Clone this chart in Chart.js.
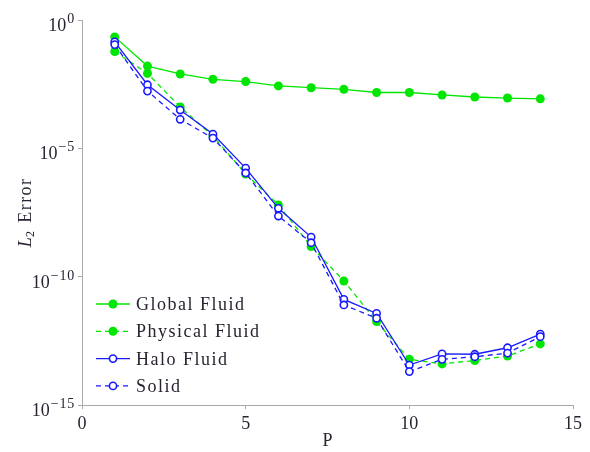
<!DOCTYPE html>
<html lang="en">
<head>
<meta charset="UTF-8">
<title>L2 Error vs P</title>
<script src="https://cdn.jsdelivr.net/npm/chart.js"></script>
<style>
  html, body { margin: 0; padding: 0; background: #fff; }
  .wrap { position: relative; width: 590px; height: 452px; }
</style>
</head>
<body>
<div class="wrap">
  <canvas id="myChart" width="590" height="452"></canvas>
</div>
<script>
// values
const P = [1, 2, 3, 4, 5, 6, 7, 8, 9, 10, 11, 12, 13, 14]
const globalFluid   = [2.2e-1, 1.6e-2, 7.9e-3, 4.9e-3, 4.0e-3, 2.7e-3, 2.3e-3, 2.0e-3, 1.5e-3, 1.5e-3, 1.2e-3, 1.0e-3, 9.1e-4, 8.5e-4]
const physicalFluid = [5.9e-2, 8.3e-3, 4.1e-4, 3.0e-5, 1.0e-6, 6.2e-8, 1.5e-9, 6.8e-11, 1.8e-12, 6.0e-14, 4.0e-14, 5.4e-14, 8.1e-14, 2.4e-13]
const haloFluid     = [1.4e-1, 3.0e-3, 3.1e-4, 3.6e-5, 1.7e-6, 4.6e-8, 3.5e-9, 1.3e-11, 3.7e-12, 3.6e-14, 9.8e-14, 9.5e-14, 1.7e-13, 5.8e-13]
const solid         = [1.1e-1, 1.7e-3, 1.35e-4, 2.5e-5, 1.1e-6, 2.3e-8, 2.1e-9, 7.9e-12, 2.4e-12, 2.0e-14, 6.0e-14, 7.6e-14, 1.05e-13, 4.6e-13]

const xTicks = [0, 5, 10, 15]
const yTicks = [1e-15, 1e-10, 1e-5, 1]
const yTickExp = ['−15', '−10', '−5', '0']

const verde = 'rgb(0, 230, 0)'
const azul = 'rgb(25, 25, 255)'
const fonte = "'Liberation Serif', 'DejaVu Serif', serif"
const corTexto = '#2a2230'

function pontos(arr){
  return P.map((p, i) => ({x: p, y: arr[i]}))
}

// legend inside the plot, y tick labels with superscripts, y title
const extras = {
  id: 'extras',
  afterDatasetsDraw(chart){
    const c = chart.ctx
    let y = 304
    c.save()
    for (const ds of chart.data.datasets){
      c.beginPath()
      c.setLineDash(ds.borderDash || [])
      c.strokeStyle = ds.borderColor
      c.lineWidth = ds.borderWidth
      c.moveTo(96, y)
      c.lineTo(130, y)
      c.stroke()
      c.setLineDash([])
      c.beginPath()
      c.arc(113, y, ds.pointRadius, 0, Math.PI * 2)
      c.fillStyle = ds.pointBackgroundColor
      c.fill()
      if (ds.pointBorderWidth){
        c.lineWidth = ds.pointBorderWidth
        c.strokeStyle = ds.pointBorderColor
        c.stroke()
      }
      c.fillStyle = corTexto
      c.font = '18px ' + fonte
      c.letterSpacing = '1.5px'
      c.textBaseline = 'alphabetic'
      c.textAlign = 'left'
      c.fillText(ds.label, 136, y + 6)
      c.letterSpacing = '0px'
      y += 27.3
    }
    c.restore()
  },
  afterDraw(chart){
    const c = chart.ctx
    const area = chart.chartArea
    const ys = chart.scales.y

    // y tick labels: 10 with exponent
    c.save()
    c.fillStyle = corTexto
    c.textBaseline = 'alphabetic'
    c.textAlign = 'left'
    yTicks.forEach((v, i) => {
      const py = ys.getPixelForValue(v)
      c.font = '14px ' + fonte
      c.letterSpacing = '0.8px'
      const wExp = c.measureText(yTickExp[i]).width
      c.font = '18px ' + fonte
      c.letterSpacing = '0px'
      const wBase = c.measureText('10').width
      const right = 75
      const x0 = right - wExp - wBase - 1
      c.fillText('10', x0, py + 11)
      c.font = '14px ' + fonte
      c.letterSpacing = '0.8px'
      c.fillText(yTickExp[i], x0 + wBase + 1, py + 3)
      c.letterSpacing = '0px'
    })
    c.restore()

    // y axis title: italic L with subscript 2
    c.save()
    c.translate(25, (area.top + area.bottom) / 2)
    c.rotate(-Math.PI / 2)
    c.fillStyle = corTexto
    c.textBaseline = 'alphabetic'
    c.textAlign = 'left'
    const fL = 'italic 18px ' + fonte
    const f2 = '12px ' + fonte
    const fE = '18px ' + fonte
    c.letterSpacing = '1.4px'
    c.font = fL; const wL = c.measureText('L').width
    c.font = f2; const w2 = c.measureText('2').width
    c.font = fE; const wE = c.measureText(' Error').width
    let x = -(wL + w2 + wE) / 2
    c.font = fL; c.fillText('L', x, 6); x += wL
    c.font = f2; c.fillText('2', x - 1, 9); x += w2
    c.font = fE; c.fillText(' Error', x, 6)
    c.restore()
  }
}

const ctx = document.getElementById('myChart')

const grafico = new Chart(ctx, {
  type: 'line',
  data: {
    datasets: [
      {
        label: 'Global Fluid',
        data: pontos(globalFluid),
        borderColor: verde,
        backgroundColor: verde,
        pointBackgroundColor: verde,
        pointBorderColor: verde,
        pointBorderWidth: 0,
        pointRadius: 4.5,
        borderWidth: 1.3,
        order: 4
      },
      {
        label: 'Physical Fluid',
        data: pontos(physicalFluid),
        borderColor: verde,
        backgroundColor: verde,
        pointBackgroundColor: verde,
        pointBorderColor: verde,
        pointBorderWidth: 0,
        pointRadius: 4.5,
        borderWidth: 1.3,
        borderDash: [5, 4],
        order: 3
      },
      {
        label: 'Halo Fluid',
        data: pontos(haloFluid),
        borderColor: azul,
        backgroundColor: '#fff',
        pointBackgroundColor: '#fff',
        pointBorderColor: azul,
        pointBorderWidth: 1.6,
        pointRadius: 3.6,
        borderWidth: 1.3,
        order: 2
      },
      {
        label: 'Solid',
        data: pontos(solid),
        borderColor: azul,
        backgroundColor: '#fff',
        pointBackgroundColor: '#fff',
        pointBorderColor: azul,
        pointBorderWidth: 1.6,
        pointRadius: 3.6,
        borderWidth: 1.3,
        borderDash: [5, 4],
        order: 1
      }
    ]
  },
  options: {
    responsive: false,
    animation: false,
    layout: { padding: { top: 20, right: 17, bottom: 0, left: 0 } },
    plugins: {
      legend: { display: false },
      tooltip: { enabled: false }
    },
    scales: {
      x: {
        type: 'linear',
        min: 0,
        max: 15,
        afterBuildTicks(scale){
          scale.ticks = xTicks.map(v => ({value: v}))
        },
        afterFit(scale){ scale.height = 47 },
        ticks: {
          color: corTexto,
          font: { family: fonte, size: 18 },
          padding: 4,
          maxRotation: 0
        },
        grid: { drawOnChartArea: false, tickLength: 4, color: '#aaa' },
        border: { color: '#aaa', width: 1 },
        title: {
          display: true,
          text: 'P',
          color: corTexto,
          font: { family: fonte, size: 18 },
          padding: { top: 0, bottom: 0 }
        }
      },
      y: {
        type: 'logarithmic',
        min: 1e-15,
        max: 1,
        afterBuildTicks(scale){
          scale.ticks = yTicks.map(v => ({value: v}))
        },
        afterFit(scale){ scale.width = 82 },
        ticks: { display: false },
        grid: { drawOnChartArea: false, tickLength: 4, color: '#aaa' },
        border: { color: '#aaa', width: 1 }
      }
    }
  },
  plugins: [extras]
})
</script>
</body>
</html>
